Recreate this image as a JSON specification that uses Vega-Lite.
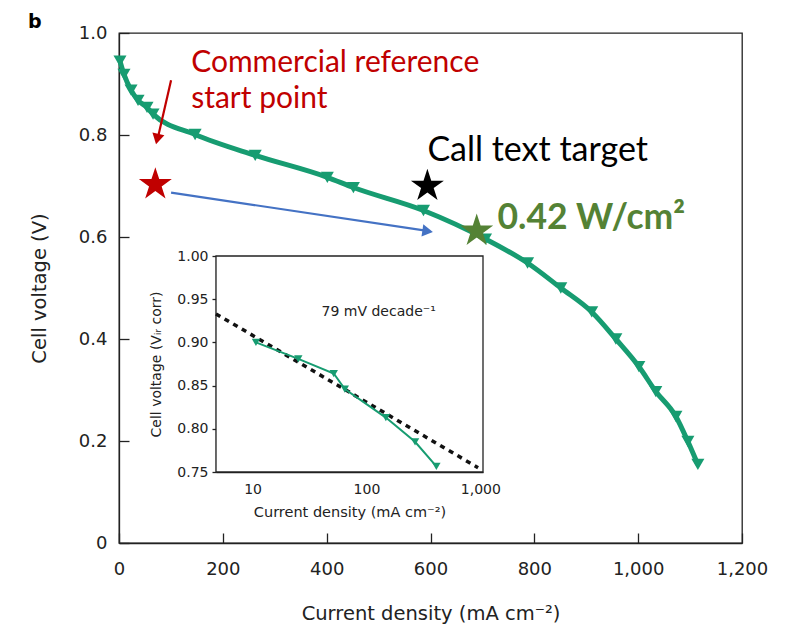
{
  "$schema": "https://vega.github.io/schema/vega-lite/v6.json",
  "width": 623,
  "height": 510,
  "autosize": {"type": "none"},
  "padding": {"left": 119, "top": 33, "right": 51, "bottom": 84},
  "background": "white",
  "title": {"text": "b", "anchor": "start", "frame": "group", "dx": -91, "dy": 31, "offset": 8, "fontSize": 19, "fontWeight": "bold", "font": "DejaVu Sans", "baseline": "alphabetic", "color": "black"},
  "config": {
    "view": {"stroke": "#222", "strokeWidth": 1.3},
    "axis": {"grid": false, "domainColor": "#222", "tickColor": "#222", "labelColor": "#222", "titleColor": "#222", "labelFont": "DejaVu Sans", "titleFont": "DejaVu Sans", "titleFontWeight": "normal", "labelOverlap": false, "labelFlush": false, "domainWidth": 1.3, "tickWidth": 1.3}
  },
  "datasets": {
    "main": [
      {"j": 1.9, "v": 0.945}, {"j": 9.6, "v": 0.919}, {"j": 23.2, "v": 0.888}, {"j": 36.7, "v": 0.868},
      {"j": 54.0, "v": 0.854}, {"j": 65.6, "v": 0.841}, {"j": 146.6, "v": 0.801}, {"j": 262.4, "v": 0.760},
      {"j": 401.3, "v": 0.717}, {"j": 451.5, "v": 0.697}, {"j": 586.5, "v": 0.652}, {"j": 706.0, "v": 0.596},
      {"j": 787.0, "v": 0.549}, {"j": 851.0, "v": 0.500}, {"j": 910.6, "v": 0.453}, {"j": 957.0, "v": 0.400},
      {"j": 1001.3, "v": 0.346}, {"j": 1034.0, "v": 0.297}, {"j": 1072.7, "v": 0.248}, {"j": 1095.8, "v": 0.199},
      {"j": 1115.0, "v": 0.154}
    ],
    "inset": [
      {"j": 10.7, "v": 0.900}, {"j": 25.2, "v": 0.881}, {"j": 51.6, "v": 0.864}, {"j": 64.5, "v": 0.846},
      {"j": 148, "v": 0.813}, {"j": 267, "v": 0.785}, {"j": 411, "v": 0.7565}
    ],
    "tafel": [{"j": 4.77, "v": 0.933}, {"j": 955, "v": 0.755}],
    "stars": [
      {"j": 70, "v": 0.703, "kind": "commercial"},
      {"j": 594, "v": 0.700, "kind": "target"},
      {"j": 689, "v": 0.612, "kind": "achieved"}
    ]
  },
  "layer": [
    {
      "layer": [
        {
          "data": {"name": "main"},
          "mark": {"type": "line", "color": "#179c71", "strokeWidth": 5, "interpolate": "monotone"},
          "encoding": {
            "x": {"field": "j", "type": "quantitative", "scale": {"domain": [0, 1200], "nice": false},
              "axis": {"title": "Current density (mA cm⁻²)", "values": [0, 200, 400, 600, 800, 1000, 1200], "format": ",.0f", "tickSize": -10, "labelPadding": 27, "labelFontSize": 18, "titleFontSize": 19.5, "titlePadding": 26}},
            "y": {"field": "v", "type": "quantitative", "scale": {"domain": [0, 1], "nice": false},
              "axis": {"title": "Cell voltage (V)", "values": [0, 0.2, 0.4, 0.6, 0.8, 1.0], "labelExpr": "datum.value == 0 ? '0' : format(datum.value, '.1f')", "tickSize": -10, "labelPadding": 22, "labelFontSize": 18, "titleFontSize": 19.5, "titlePadding": 29}}
          }
        },
        {
          "data": {"name": "main"},
          "mark": {"type": "point", "shape": "triangle-down", "filled": true, "opacity": 1, "color": "#179c71", "size": 170},
          "encoding": {"x": {"field": "j", "type": "quantitative"}, "y": {"field": "v", "type": "quantitative"}}
        },
        {
          "data": {"values": [{"j": 100.3, "v": 0.9075, "j2": 74.1, "v2": 0.791}]},
          "mark": {"type": "rule", "color": "#C00000", "strokeWidth": 2.2},
          "encoding": {"x": {"field": "j", "type": "quantitative"}, "y": {"field": "v", "type": "quantitative"}, "x2": {"field": "j2"}, "y2": {"field": "v2"}}
        },
        {
          "data": {"values": [{"j": 73.6, "v": 0.792}]},
          "mark": {"type": "point", "shape": "triangle-up", "filled": true, "opacity": 1, "color": "#C00000", "size": 150, "angle": 193},
          "encoding": {"x": {"field": "j", "type": "quantitative"}, "y": {"field": "v", "type": "quantitative"}}
        },
        {
          "data": {"values": [{"j": 100.3, "v": 0.687, "j2": 593.8, "v2": 0.612}]},
          "mark": {"type": "rule", "color": "#4472C4", "strokeWidth": 2.2},
          "encoding": {"x": {"field": "j", "type": "quantitative"}, "y": {"field": "v", "type": "quantitative"}, "x2": {"field": "j2"}, "y2": {"field": "v2"}}
        },
        {
          "data": {"values": [{"j": 594.5, "v": 0.6115}]},
          "mark": {"type": "point", "shape": "triangle-up", "filled": true, "opacity": 1, "color": "#4472C4", "size": 150, "angle": 98.5},
          "encoding": {"x": {"field": "j", "type": "quantitative"}, "y": {"field": "v", "type": "quantitative"}}
        },
        {
          "data": {"name": "stars"},
          "mark": {"type": "point", "shape": "M0,-1L0.2245,-0.309L0.9511,-0.309L0.3633,0.118L0.5878,0.809L0,0.382L-0.5878,0.809L-0.3633,0.118L-0.9511,-0.309L-0.2245,-0.309Z", "filled": true, "opacity": 1, "size": 1200},
          "encoding": {
            "x": {"field": "j", "type": "quantitative"}, "y": {"field": "v", "type": "quantitative"},
            "color": {"field": "kind", "type": "nominal", "scale": {"domain": ["commercial", "target", "achieved"], "range": ["#C00000", "#000000", "#548235"]}, "legend": null}
          }
        },
        {
          "data": {"values": [{"j": 139, "v": 0.923, "label": ["Commercial reference", "start point"]}]},
          "mark": {"type": "text", "align": "left", "baseline": "alphabetic", "font": "Lato", "fontSize": 30, "lineHeight": 36, "color": "#C00000"},
          "encoding": {"x": {"field": "j", "type": "quantitative"}, "y": {"field": "v", "type": "quantitative"}, "text": {"field": "label"}}
        },
        {
          "data": {"values": [{"j": 594, "v": 0.75, "label": "Call text target"}]},
          "mark": {"type": "text", "align": "left", "baseline": "alphabetic", "font": "Lato", "fontSize": 34, "color": "#000000"},
          "encoding": {"x": {"field": "j", "type": "quantitative"}, "y": {"field": "v", "type": "quantitative"}, "text": {"field": "label"}}
        },
        {
          "data": {"values": [{"j": 729, "v": 0.616, "label": "0.42 W/cm²"}]},
          "mark": {"type": "text", "align": "left", "baseline": "alphabetic", "font": "Lato", "fontSize": 35.5, "fontWeight": "bold", "color": "#548235"},
          "encoding": {"x": {"field": "j", "type": "quantitative"}, "y": {"field": "v", "type": "quantitative"}, "text": {"field": "label"}}
        }
      ]
    },
    {
      "layer": [
        {
          "data": {"values": [{"j": 4.77, "j2": 1055, "v": 0.75, "v2": 1.0}]},
          "mark": {"type": "rect", "fill": "white", "stroke": "#222", "strokeWidth": 1.3},
          "encoding": {
            "x": {"field": "j", "type": "quantitative", "scale": {"type": "log", "domain": [4.77, 1055], "range": [97, 364], "nice": false},
              "axis": {"orient": "bottom", "offset": -71, "title": "Current density (mA cm⁻²)", "values": [10, 100, 1000], "format": ",.0f", "tickSize": -5, "labelPadding": 15, "labelFontSize": 14, "titleFontSize": 14.5, "titlePadding": 9}},
            "x2": {"field": "j2"},
            "y": {"field": "v", "type": "quantitative", "scale": {"domain": [0.75, 1.0], "range": [439, 223], "nice": false},
              "axis": {"orient": "left", "offset": -97, "title": "Cell voltage (Vᵢᵣ corr)", "values": [0.75, 0.8, 0.85, 0.9, 0.95, 1.0], "format": ".2f", "tickSize": 4, "labelPadding": 4, "labelFontSize": 14, "titleFontSize": 14, "titlePadding": 13}},
            "y2": {"field": "v2"}
          }
        },
        {
          "data": {"name": "tafel"},
          "mark": {"type": "line", "color": "#111", "strokeWidth": 3.5, "strokeDash": [5, 5]},
          "encoding": {"x": {"field": "j", "type": "quantitative"}, "y": {"field": "v", "type": "quantitative"}}
        },
        {
          "data": {"name": "inset"},
          "mark": {"type": "line", "color": "#179c71", "strokeWidth": 2},
          "encoding": {"x": {"field": "j", "type": "quantitative"}, "y": {"field": "v", "type": "quantitative"}}
        },
        {
          "data": {"name": "inset"},
          "mark": {"type": "point", "shape": "triangle-down", "filled": true, "opacity": 1, "color": "#179c71", "size": 70},
          "encoding": {"x": {"field": "j", "type": "quantitative"}, "y": {"field": "v", "type": "quantitative"}}
        },
        {
          "data": {"values": [{"j": 40.3, "v": 0.93, "label": "79 mV decade⁻¹"}]},
          "mark": {"type": "text", "align": "left", "baseline": "alphabetic", "font": "DejaVu Sans", "fontSize": 14, "color": "#222"},
          "encoding": {"x": {"field": "j", "type": "quantitative"}, "y": {"field": "v", "type": "quantitative"}, "text": {"field": "label"}}
        }
      ]
    }
  ],
  "resolve": {"scale": {"x": "independent", "y": "independent"}}
}
